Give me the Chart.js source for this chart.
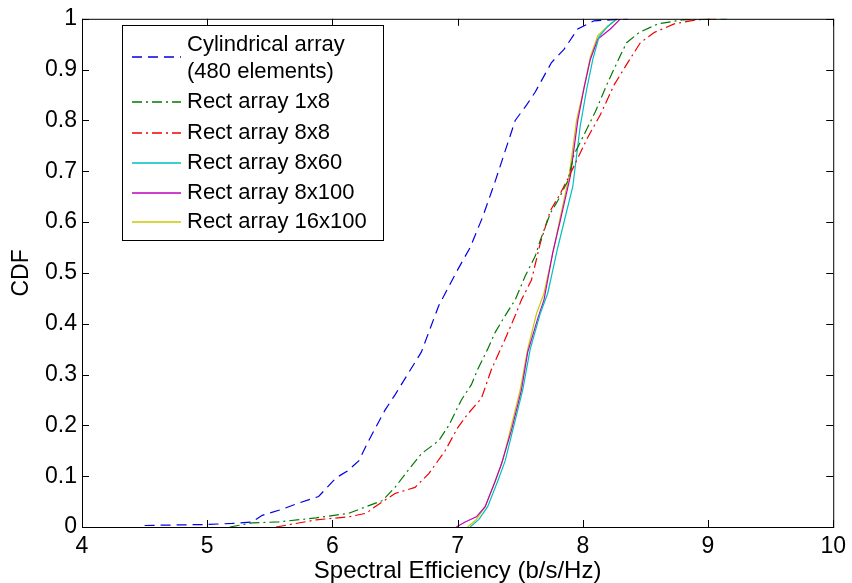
<!DOCTYPE html>
<html>
<head>
<meta charset="utf-8">
<script src="https://cdn.jsdelivr.net/npm/chart.js@4/dist/chart.umd.min.js"></script>
<style>
  html, body { margin: 0; padding: 0; background: #fff; }
  #wrap { width: 852px; height: 583px; }
</style>
</head>
<body>
<div id="wrap"><canvas id="cdf"></canvas></div>
<script>
const FONT = "'Liberation Sans', Arial, sans-serif";

const xTicks = [4, 5, 6, 7, 8, 9, 10];
const yTicks = [0, 0.1, 0.2, 0.3, 0.4, 0.5, 0.6, 0.7, 0.8, 0.9, 1];

const seriesNames = [
  ['Cylindrical array', '(480 elements)'],
  ['Rect array 1x8'],
  ['Rect array 8x8'],
  ['Rect array 8x60'],
  ['Rect array 8x100'],
  ['Rect array 16x100'],
];

// Cylindrical array (480 elements)
const cylX = [4.5, 5.0, 5.2, 5.36, 5.44, 5.6, 5.73, 5.89, 6.03, 6.12, 6.21, 6.29, 6.42, 6.5, 6.6, 6.71, 6.85, 7.0, 7.1, 7.2, 7.3, 7.38, 7.46, 7.55, 7.62, 7.75, 7.85, 7.96, 8.09, 8.36];
const cylY = [0.003, 0.005, 0.007, 0.01, 0.023, 0.035, 0.047, 0.06, 0.097, 0.11, 0.13, 0.17, 0.23, 0.26, 0.3, 0.344, 0.436, 0.506, 0.55, 0.61, 0.68, 0.74, 0.8, 0.83, 0.856, 0.914, 0.94, 0.98, 0.996, 1.0];

// Rect array 1x8
const r1x8X = [5.18, 5.36, 5.57, 5.87, 6.13, 6.27, 6.4, 6.5, 6.6, 6.71, 6.85, 6.93, 7.03, 7.11, 7.16, 7.24, 7.3, 7.38, 7.46, 7.54, 7.62, 7.66, 7.74, 7.8, 7.88, 7.93, 8.0, 8.1, 8.2, 8.3, 8.35, 8.45, 8.6, 8.8, 9.15];
const r1x8Y = [0, 0.008, 0.01, 0.018, 0.027, 0.04, 0.052, 0.078, 0.11, 0.144, 0.17, 0.2, 0.25, 0.28, 0.31, 0.35, 0.383, 0.416, 0.447, 0.494, 0.533, 0.564, 0.617, 0.642, 0.681, 0.733, 0.767, 0.817, 0.875, 0.928, 0.953, 0.973, 0.99, 0.998, 1];

// Rect array 8x8
const r8x8X = [5.55, 5.87, 6.13, 6.27, 6.34, 6.5, 6.66, 6.77, 6.9, 7.0, 7.08, 7.19, 7.27, 7.38, 7.46, 7.51, 7.59, 7.66, 7.74, 7.82, 7.9, 8.04, 8.14, 8.25, 8.38, 8.46, 8.57, 8.73, 8.91, 9.07];
const r8x8Y = [0, 0.014, 0.02, 0.027, 0.04, 0.066, 0.078, 0.105, 0.15, 0.195, 0.222, 0.253, 0.31, 0.37, 0.416, 0.447, 0.486, 0.558, 0.622, 0.656, 0.695, 0.767, 0.811, 0.87, 0.922, 0.953, 0.973, 0.99, 0.998, 1];

// Rect array 8x60
const r8x60X = [7.1, 7.17, 7.24, 7.32, 7.38, 7.45, 7.52, 7.58, 7.66, 7.72, 7.8, 7.86, 7.92, 7.98, 8.03, 8.08, 8.13, 8.2, 8.27];
const r8x60Y = [0, 0.015, 0.04, 0.09, 0.13, 0.2, 0.27, 0.35, 0.42, 0.46, 0.55, 0.61, 0.67, 0.79, 0.86, 0.92, 0.965, 0.985, 1];

// Rect array 8x100
const r8x100X = [6.99, 7.06, 7.15, 7.22, 7.3, 7.35, 7.43, 7.51, 7.56, 7.64, 7.69, 7.76, 7.82, 7.9, 7.96, 8.01, 8.06, 8.12, 8.22, 8.3];
const r8x100Y = [0, 0.01, 0.02, 0.04, 0.09, 0.124, 0.19, 0.27, 0.344, 0.41, 0.447, 0.54, 0.603, 0.69, 0.8, 0.864, 0.92, 0.96, 0.98, 1];

// Rect array 16x100
const r16x100X = [7.08, 7.15, 7.22, 7.3, 7.36, 7.43, 7.5, 7.56, 7.63, 7.69, 7.77, 7.82, 7.89, 7.95, 8.01, 8.06, 8.12, 8.2, 8.28];
const r16x100Y = [0, 0.015, 0.04, 0.09, 0.13, 0.2, 0.27, 0.35, 0.42, 0.46, 0.55, 0.61, 0.69, 0.8, 0.865, 0.925, 0.967, 0.986, 1];

const pts = (xs, ys) => xs.map((x, i) => ({ x, y: ys[i] }));

const STYLES = [
  { color: '#0000e6', dash: [10, 6] },
  { color: '#007a00', dash: [10, 4, 2, 4] },
  { color: '#f00000', dash: [10, 4, 2, 4] },
  { color: '#00bfbf', dash: [] },
  { color: '#bf00bf', dash: [] },
  { color: '#c8c800', dash: [] },
];

const allData = [
  pts(cylX, cylY), pts(r1x8X, r1x8Y), pts(r8x8X, r8x8Y),
  pts(r8x60X, r8x60Y), pts(r8x100X, r8x100Y), pts(r16x100X, r16x100Y),
];

const datasets = allData.map((d, i) => ({
  label: seriesNames[i].join(' '),
  data: d,
  borderColor: STYLES[i].color,
  borderDash: STYLES[i].dash,
  borderWidth: 1.2,
  pointRadius: 0,
  tension: 0,
  fill: false,
}));

// MATLAB-like frame with inward ticks on all sides
const frameTicks = {
  id: 'frameTicks',
  afterDraw(chart) {
    const { ctx, chartArea: a, scales: { x, y } } = chart;
    ctx.save();
    ctx.strokeStyle = '#000';
    ctx.lineWidth = 1;
    ctx.strokeRect(a.left + 0.5, a.top + 0.5, a.right - a.left, a.bottom - a.top);
    ctx.beginPath();
    xTicks.forEach(v => {
      const px = Math.round(x.getPixelForValue(v)) + 0.5;
      ctx.moveTo(px, a.bottom); ctx.lineTo(px, a.bottom - 7);
      ctx.moveTo(px, a.top); ctx.lineTo(px, a.top + 7);
    });
    yTicks.forEach(v => {
      const py = Math.round(y.getPixelForValue(v)) + 0.5;
      ctx.moveTo(a.left, py); ctx.lineTo(a.left + 7, py);
      ctx.moveTo(a.right, py); ctx.lineTo(a.right - 7, py);
    });
    ctx.stroke();
    ctx.restore();
  },
};

// legend box in the upper left of the axes
const boxLegend = {
  id: 'boxLegend',
  afterDraw(chart) {
    const { ctx } = chart;
    const rows = [57, 102, 133, 163, 193, 222];
    ctx.save();
    ctx.fillStyle = '#fff';
    ctx.fillRect(122, 25, 261, 215);
    ctx.lineWidth = 1;
    ctx.strokeStyle = '#000';
    ctx.strokeRect(122.5, 25.5, 261, 215);
    ctx.font = '22px ' + FONT;
    ctx.textBaseline = 'middle';
    seriesNames.forEach((lines, i) => {
      ctx.setLineDash(STYLES[i].dash);
      ctx.strokeStyle = STYLES[i].color;
      ctx.lineWidth = 1.5;
      ctx.beginPath();
      ctx.moveTo(132, rows[i]);
      ctx.lineTo(181, rows[i]);
      ctx.stroke();
      ctx.setLineDash([]);
      ctx.fillStyle = '#000';
      if (lines.length === 2) {
        ctx.fillText(lines[0], 187, 45);
        ctx.fillText(lines[1], 187, 72);
      } else {
        ctx.fillText(lines[0], 187, rows[i]);
      }
    });
    ctx.restore();
  },
};

new Chart(document.getElementById('cdf'), {
  type: 'line',
  data: { datasets },
  options: {
    responsive: true, maintainAspectRatio: false, animation: false,
    layout: { padding: { left: 0, right: 15, top: 13, bottom: 0 } },
    plugins: { legend: { display: false }, tooltip: { enabled: false } },
    scales: {
      x: {
        type: 'linear', min: 4, max: 10,
        afterBuildTicks: s => { s.ticks = xTicks.map(v => ({ value: v })); },
        afterFit: s => { s.height = 56; },
        grid: { display: false, drawTicks: false },
        border: { display: false },
        ticks: { color: '#000', font: { family: FONT, size: 23 }, padding: 6, maxRotation: 0 },
        title: { display: true, text: 'Spectral Efficiency (b/s/Hz)', color: '#000', font: { family: FONT, size: 24, lineHeight: 1 }, padding: { top: 0, bottom: 0 } },
      },
      y: {
        type: 'linear', min: 0, max: 1,
        afterBuildTicks: s => { s.ticks = yTicks.map(v => ({ value: v })); },
        afterFit: s => { s.width = 82; },
        grid: { display: false, drawTicks: false },
        border: { display: false },
        ticks: { color: '#000', font: { family: FONT, size: 23 }, padding: 5, callback: v => String(Math.round(v * 10) / 10) },
        title: { display: true, text: 'CDF', color: '#000', font: { family: FONT, size: 23 }, padding: { top: 8, bottom: 0 } },
      },
    },
  },
  plugins: [frameTicks, boxLegend],
});
</script>
</body>
</html>
